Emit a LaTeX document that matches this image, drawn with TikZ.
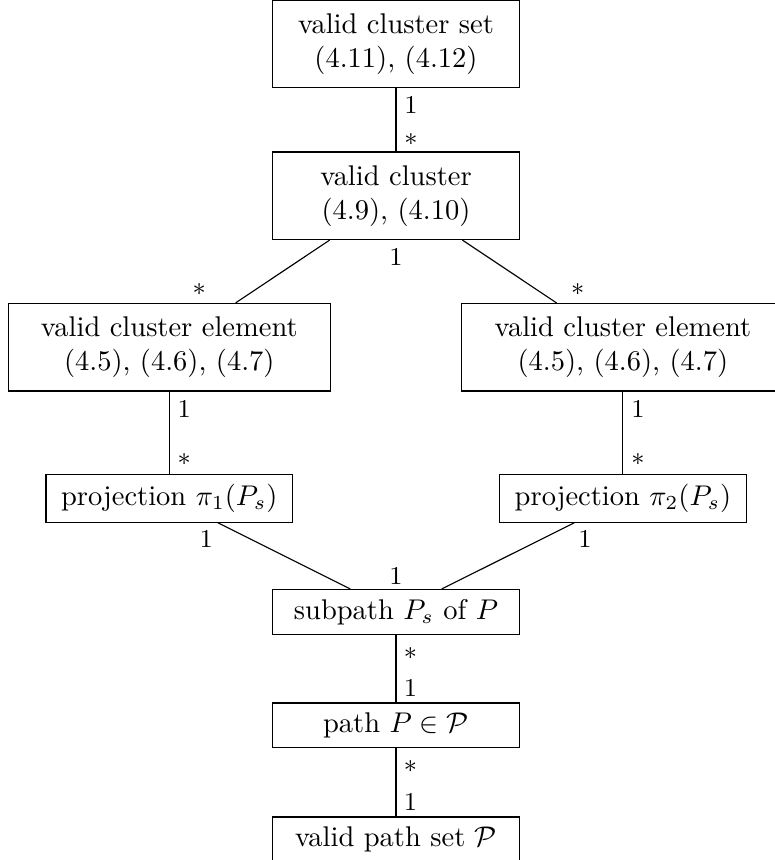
\documentclass[tikz,border=0pt]{standalone}
\usepackage{amsmath}
\usepackage{tikz}
\usetikzlibrary{calc}

\begin{document}
\begin{tikzpicture}[
  x=0.3509pt, y=0.3509pt,
  box/.style={draw,align=center,minimum width=86.5pt},
  bigbox/.style={draw,align=center,minimum width=86.5pt,minimum height=30.7pt},
  elbox/.style={draw,align=center,minimum width=113.1pt,minimum height=30.7pt},
  mult/.style={font=\small,inner sep=0pt}]
\useasboundingbox (0,0) rectangle (774,-860);
% boxes
\node[bigbox,anchor=south] (vcs) at (396,-88.3) {valid cluster set\\(4.11), (4.12)};
\node[bigbox] (vc) at (396,-195.8) {valid cluster\\(4.9), (4.10)};
\node[elbox] (vceL) at (169.3,-347.2) {valid cluster element\\(4.5), (4.6), (4.7)};
\node[elbox] (vceR) at (622.9,-347.2) {valid cluster element\\(4.5), (4.6), (4.7)};
\node[box] (projL) at (169.3,-498.5) {projection $\pi_1(P_s)$};
\node[box] (projR) at (622.9,-498.5) {projection $\pi_2(P_s)$};
\node[box] (sub) at (396,-611.8) {subpath $P_s$ of $P$};
\node[box] (path) at (396,-725.2) {path $P \in \mathcal{P}$};
\node[box] (vps) at (396,-839.2) {valid path set $\mathcal{P}$};
% links
\draw (vcs) -- (vc);
\draw (vc) -- (vceL);
\draw (vc) -- (vceR);
\draw (vceL) -- (projL);
\draw (vceR) -- (projR);
\draw (projL) -- (sub);
\draw (projR) -- (sub);
\draw (sub) -- (path);
\draw (path) -- (vps);
% multiplicities
\node[mult] (m1) at ($(vcs.south)+(15,-16.7)$) {1};
\node[mult] (m2) at ($(vc.north)+(15,12.3)$) {$*$};
\node[mult] (m3) at ($(vc.south)+(0,-17)$) {1};
\node[mult] (m4) at ($(vceL.north)+(29.8,13.3)$) {$*$};
\node[mult] (m5) at ($(vceR.north)+(-45.2,13.3)$) {$*$};
\node[mult] (m6) at ($(vceL.south)+(15,-17.3)$) {1};
\node[mult] (m7) at ($(projL.north)+(15,14.3)$) {$*$};
\node[mult] (m8) at ($(vceR.south)+(15,-17.3)$) {1};
\node[mult] (m9) at ($(projR.north)+(15,14.3)$) {$*$};
\node[mult] (m10) at ($(projL.south)+(37,-16.6)$) {1};
\node[mult] (m11) at ($(projR.south)+(-38,-16.6)$) {1};
\node[mult] (m12) at ($(sub.north)+(0,13.3)$) {1};
\node[mult] (m13) at ($(sub.south)+(14.5,-19)$) {$*$};
\node[mult] (m14) at ($(path.north)+(14.5,14.4)$) {1};
\node[mult] (m15) at ($(path.south)+(14.5,-18.3)$) {$*$};
\node[mult] (m16) at ($(vps.north)+(14.5,15)$) {1};
\end{tikzpicture}
\end{document}
